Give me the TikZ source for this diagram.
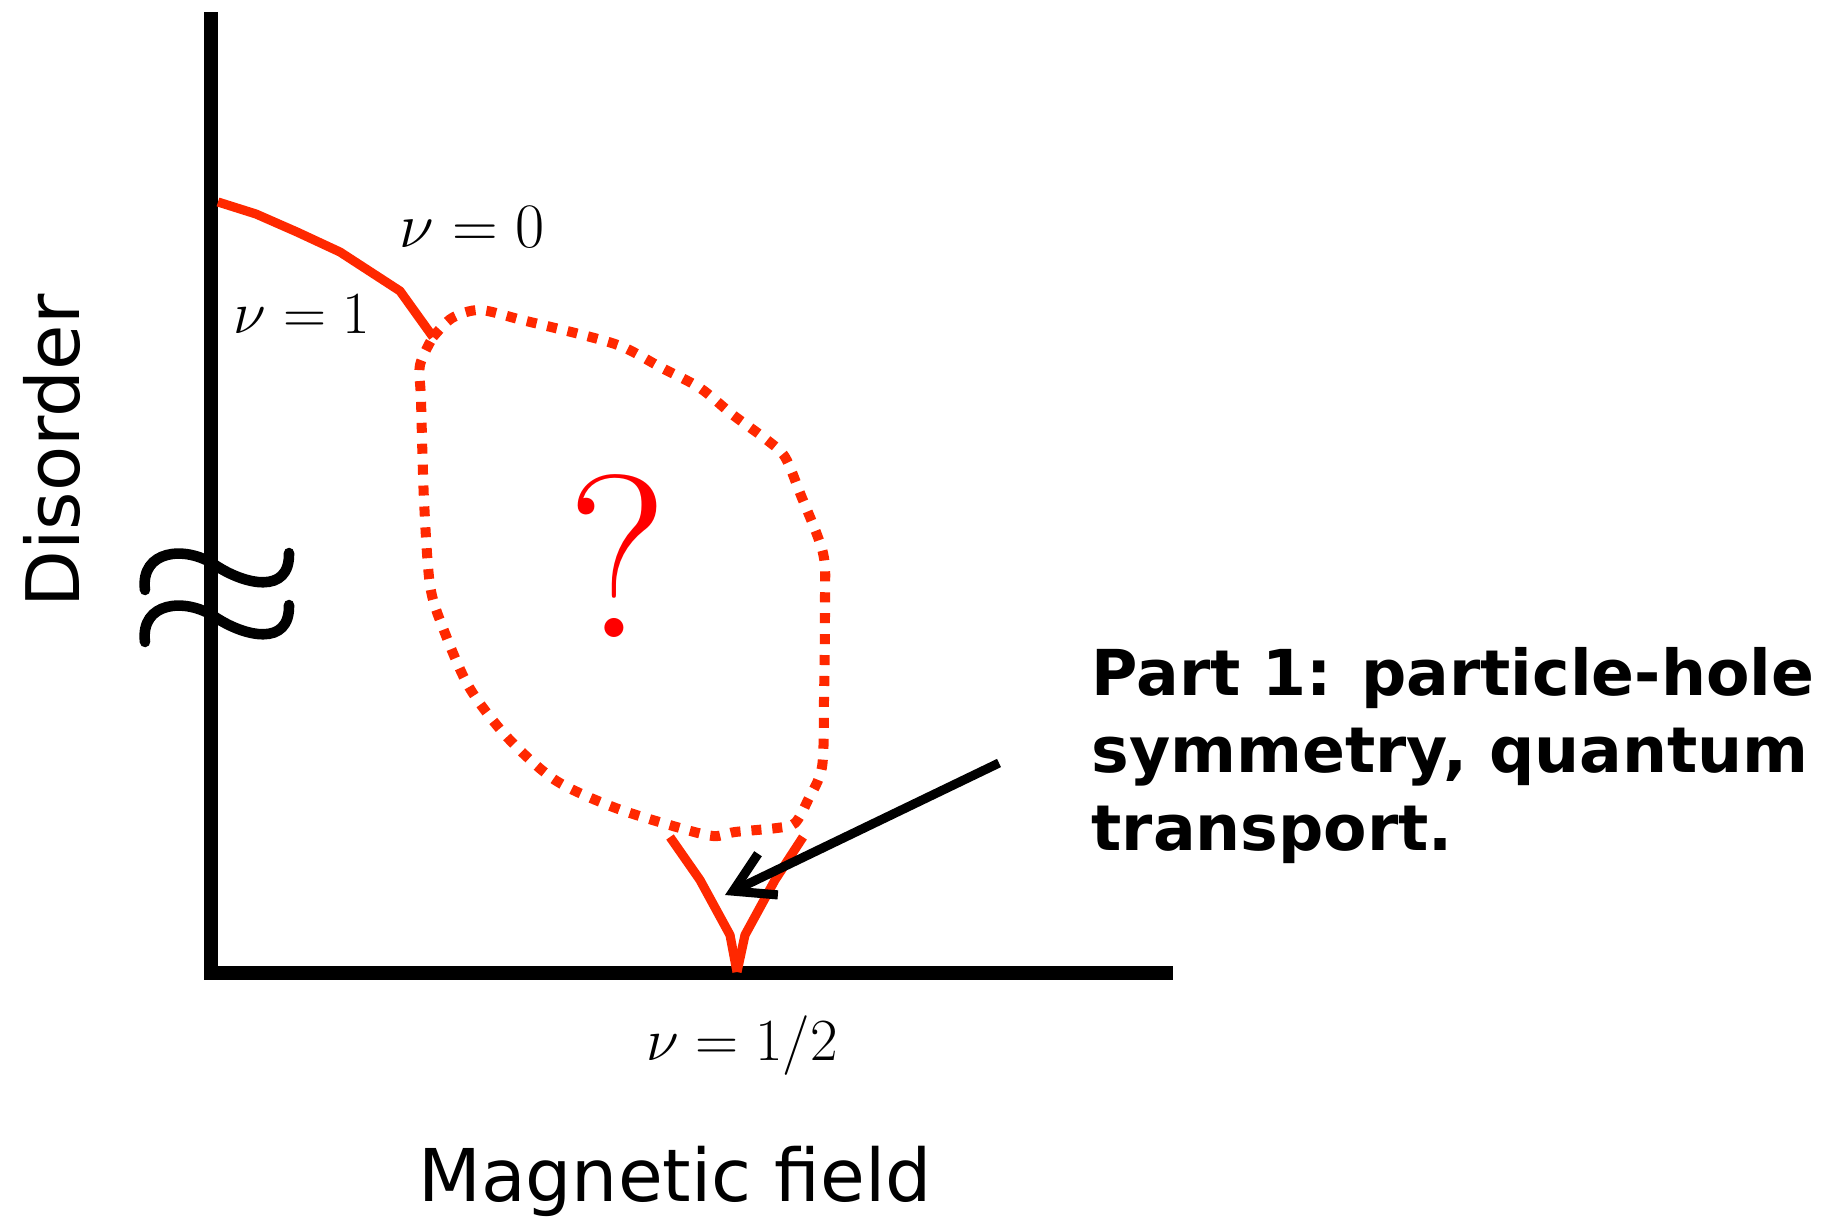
\documentclass[tikz,border=0pt]{standalone}
\usepackage{fix-cm}
\usepackage{fontspec}
\usepackage{tikz}
\usetikzlibrary{arrows.meta}

\newfontfamily\axisfont{DejaVu Sans}
\definecolor{phaseline}{RGB}{255,40,0}

\begin{document}
\begin{tikzpicture}
[
	x=0.01cm,
	y=-0.01cm,
	axis/.style={line width=4pt},
	phase/.style={phaseline,line width=2.6pt,line join=round},
	unknown/.style={phaseline,line width=2.85pt,dash pattern=on 2.85pt off 3.1pt},
	pointer/.style={line width=2.6pt,-{Straight Barb[length=11pt,width=13pt]}},
	fillfrac/.style={font=\fontsize{17}{20}\selectfont,anchor=base}
]
	\useasboundingbox (0,0) rectangle (1826,1218);

	% axes
	\coordinate (origin) at (211,973);
	\coordinate (ytop) at (211,12);
	\coordinate (xend) at (1173,973);
	\draw[axis] (ytop) -- (origin) -- (xend);

	% axis break
	\foreach \dy in {0,52}
		\draw[line width=3pt,line cap=round] (145,590+\dy) .. controls (140,550+\dy) and (185,545+\dy) .. (215,565+\dy) .. controls (245,585+\dy) and (290,595+\dy) .. (289,553+\dy);

	\node[font=\axisfont\fontsize{21}{25}\selectfont, rotate=90, anchor=base] (ylabel) at (79,451) {Disorder};
	\node[font=\axisfont\fontsize{20.7}{25}\selectfont, anchor=base] (xlabel) at (675,1201) {Magnetic field};

	% phase boundaries
	\draw[phase] (218,202) -- (256,214) -- (297,232) -- (340,252) -- (400,291) -- (433,337);
	\draw[phase] (670,837) -- (700,880) -- (730,935) -- (737,972);
	\draw[phase] (803,837) -- (775,880) -- (745,935) -- (737,972);

	\draw[unknown] plot[smooth, tension=0.5] coordinates {(433,337) (452,318) (480,310) (522,320) (583,335) (623,347) (662,368) (700,388) (733,415) (767,440) (785,457) (800,493) (823,553) (825,600) (824,700) (822,767) (808,800) (795,823) (777,828) (735,832) (713,836) (673,826) (613,807) (555,780) (507,737) (469,687) (443,628) (430,585) (424,500) (421,400) (420,365) (433,337)};

	\node[font=\fontsize{18}{22}\selectfont, anchor=base] (nuzero) at (472,247) {$\nu=0$};
	\node[fillfrac] (nuone) at (302,333) {$\nu=1$};
	\node[fillfrac] (nuhalf) at (742,1060) {$\nu=1/2$};
	\node[text=red, font=\fontsize{66}{70}\selectfont, anchor=base] (query) at (618,637) {?};

	% pointer to the critical point
	\node[font=\axisfont\bfseries\fontsize{18}{22}\selectfont, anchor=base west, align=left, inner sep=0pt] (note) at (1091,850) {Part 1: particle-hole\\symmetry, quantum\\transport.};
	\coordinate (arrowtail) at (999,763);
	\coordinate (arrowtip) at (725,895);
	\draw[pointer] (arrowtail) -- (arrowtip);

\end{tikzpicture}
\end{document}
